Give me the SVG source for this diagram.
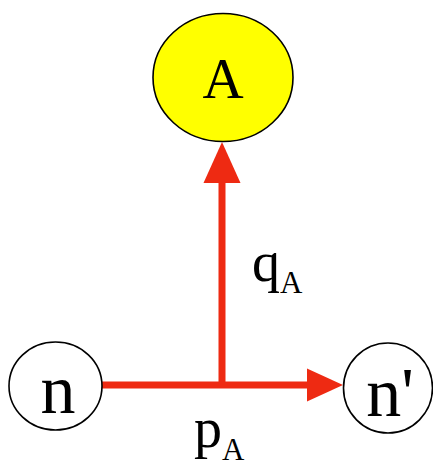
<svg xmlns="http://www.w3.org/2000/svg" width="433" height="467" viewBox="0 0 433 467">
<style>
.node{stroke:#000;stroke-width:1.6}
.lbl{font-family:"Liberation Serif","Times New Roman",serif;fill:#000}
.edge{stroke:#ee2a12;stroke-width:7;fill:none}
.head{fill:#ee2a12}
</style>
<rect width="433" height="467" fill="#fff"/>
<g id="connectors">
<line class="edge" x1="102" y1="385" x2="309" y2="385"/>
<polygon class="head" points="343,385 307,368.5 307,401.5"/>
<line class="edge" x1="222" y1="388" x2="222" y2="181"/>
<polygon class="head" points="222,142 203.5,183 240.5,183"/>
<text class="lbl" x="252" y="281" font-size="56">q<tspan font-size="31" dy="12">A</tspan></text>
<text class="lbl" x="194" y="447" font-size="56">p<tspan font-size="31" dy="13">A</tspan></text>
</g>
<g id="node-A">
<ellipse class="node" cx="223" cy="77.5" rx="70" ry="64" fill="#ffff00"/>
<text class="lbl" x="223" y="98" font-size="57" text-anchor="middle">A</text>
</g>
<g id="node-n">
<ellipse class="node" cx="55.5" cy="386" rx="46.5" ry="44" fill="#fff"/>
<text class="lbl" x="58" y="413" font-size="70" text-anchor="middle">n</text>
</g>
<g id="node-n-prime">
<ellipse class="node" cx="388" cy="388" rx="44.5" ry="45" fill="#fff"/>
<text class="lbl" x="390" y="416" font-size="70" text-anchor="middle">n'</text>
</g>
</svg>
